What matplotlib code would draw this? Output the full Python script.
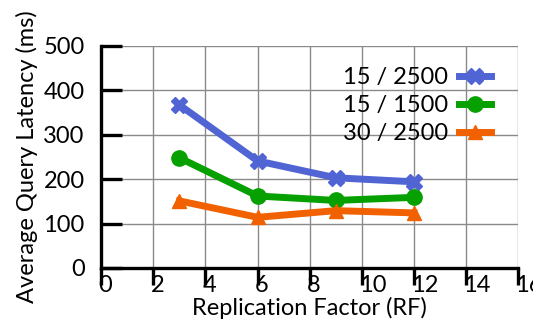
import matplotlib
matplotlib.use("Agg")
import matplotlib.pyplot as plt
from matplotlib import transforms

rf = [3, 6, 9, 12]
lat_15_2500 = [367, 241, 203, 194]
lat_15_1500 = [248, 162, 152, 159]
lat_30_2500 = [151, 114, 129, 124]
labels = ["15 / 2500", "15 / 1500", "30 / 2500"]

plt.rcParams["font.family"] = ["Lato", "DejaVu Sans"]
FS = 17

fig = plt.figure(figsize=(5.33, 3.30), dpi=100)
ax = fig.add_axes([0.19, 0.188, 0.782, 0.673])

ax.plot(rf, lat_15_2500, color="#5064d4", lw=5, marker="X", ms=11, label=labels[0])
ax.plot(rf, lat_15_1500, color="#06a000", lw=5, marker="o", ms=11, label=labels[1])
ax.plot(rf, lat_30_2500, color="#f26100", lw=5, marker="^", ms=10, label=labels[2])

ax.set_xlim(0, 16)
ax.set_ylim(0, 500)
ax.set_xticks(range(0, 17, 2))
ax.set_yticks(range(0, 501, 100))
ax.grid(True, color="#8a8a8a", lw=1)
ax.set_axisbelow(True)
for s in ["top", "right"]:
    ax.spines[s].set_visible(False)
for s in ["left", "bottom"]:
    ax.spines[s].set_linewidth(2.4)

ax.tick_params(axis="y", direction="in", length=15, width=2.4, labelsize=FS, pad=12)
ax.tick_params(axis="x", direction="out", length=12, width=2.4, labelsize=FS, pad=-7)
shift = transforms.ScaledTranslation(-2 / 72, 0, fig.dpi_scale_trans)
for lab in ax.get_xticklabels():
    lab.set_horizontalalignment("left")
    lab.set_transform(lab.get_transform() + shift)

ax.set_xlabel("Replication Factor (RF)", fontsize=FS, labelpad=1)
ax.set_ylabel("Average Query Latency (ms)", fontsize=FS, labelpad=4)

ax.legend(loc="upper right", bbox_to_anchor=(0.985, 1.0), frameon=False,
          markerfirst=False, fontsize=FS, handlelength=1.35, labelspacing=0.3,
          handletextpad=0.45)

fig.savefig("out.png", dpi=100)
plt.close(fig)
